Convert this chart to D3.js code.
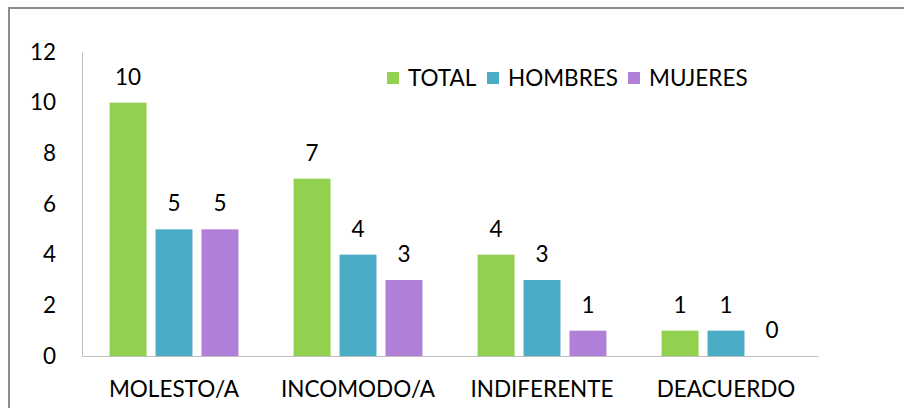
<!DOCTYPE html>
<html>
<head>
<meta charset="utf-8">
<script src="https://cdn.jsdelivr.net/npm/d3@7"></script>
<style>
  body { margin: 0; background: #fff; }
  text { font-family: Lato, "Open Sans", sans-serif; fill: #000; }
</style>
</head>
<body>
<div id="chart"></div>
<script>
// categories and series
const categories = ["MOLESTO/A", "INCOMODO/A", "INDIFERENTE", "DEACUERDO"];
const seriesNames = ["TOTAL", "HOMBRES", "MUJERES"];
const total = [10, 7, 4, 1];
const hombres = [5, 4, 3, 1];
const mujeres = [5, 3, 1, 0];
const yTicks = [0, 2, 4, 6, 8, 10, 12];

const colors = ["#92d050", "#4bacc6", "#b07fd8"];
const allSeries = [total, hombres, mujeres];

const width = 904, height = 408;
const margin = {left: 82, right: 86, top: 52, bottom: 52};
const fontSize = '22.5px';

let svg = d3.select('#chart')
  .append('svg')
  .attr('width', width)
  .attr('height', height);

// outer frame (only top and left edges visible)
svg.append('path')
  .attr('d', 'M9,' + height + ' V8 H' + width)
  .attr('fill', 'none')
  .attr('stroke', '#8c8c8c')
  .attr('stroke-width', 2);

let x = d3.scaleBand()
  .domain(categories)
  .range([margin.left, width - margin.right]);

let y = d3.scaleLinear()
  .domain([0, 12])
  .range([height - margin.bottom, margin.top]);

let x1 = d3.scaleBand()
  .domain(seriesNames)
  .range([0, x.bandwidth()])
  .paddingInner(0.196)
  .paddingOuter(0.6);

// y axis
let yAxis = d3.axisLeft(y).tickValues(yTicks).tickSize(0).tickPadding(26);
let gy = svg.append('g').attr('transform', 'translate(' + margin.left + ',0)').call(yAxis);
gy.select('.domain').attr('stroke', '#bfbfbf');
gy.selectAll('text').style('font-size', fontSize).style('font-family', 'Lato, sans-serif');

// x axis
let xAxis = d3.axisBottom(x).tickSize(0).tickPadding(25);
let gx = svg.append('g').attr('transform', 'translate(0,' + y(0) + ')').call(xAxis);
gx.select('.domain').attr('stroke', '#bfbfbf');
gx.selectAll('text').style('font-size', fontSize).style('font-family', 'Lato, sans-serif');

// bars
let groups = svg.selectAll('g.series')
  .data(seriesNames)
  .enter()
  .append('g')
  .attr('class', 'series');

groups.each(function(name, si) {
  let g = d3.select(this);
  let vals = allSeries[si];
  g.selectAll('rect')
    .data(vals)
    .enter()
    .append('rect')
    .attr('x', function(d, i) { return x(categories[i]) + x1(name); })
    .attr('y', function(d) { return y(d); })
    .attr('width', x1.bandwidth())
    .attr('height', function(d) { return y(0) - y(d); })
    .attr('fill', colors[si]);

  g.selectAll('text')
    .data(vals)
    .enter()
    .append('text')
    .attr('x', function(d, i) { return x(categories[i]) + x1(name) + x1.bandwidth() / 2; })
    .attr('y', function(d) { return y(d) - 18; })
    .attr('text-anchor', 'middle')
    .style('font-size', fontSize)
    .text(function(d) { return d; });
});

// legend
const legendX = [387, 487, 628];
let legend = svg.selectAll('g.legend')
  .data(seriesNames)
  .enter()
  .append('g')
  .attr('class', 'legend')
  .attr('transform', function(d, i) { return 'translate(' + legendX[i] + ',72)'; });

legend.append('rect')
  .attr('width', 12)
  .attr('height', 12)
  .attr('fill', function(d, i) { return colors[i]; });

legend.append('text')
  .attr('x', 21)
  .attr('y', 14)
  .style('font-size', fontSize)
  .text(function(d) { return d; });
</script>
</body>
</html>
